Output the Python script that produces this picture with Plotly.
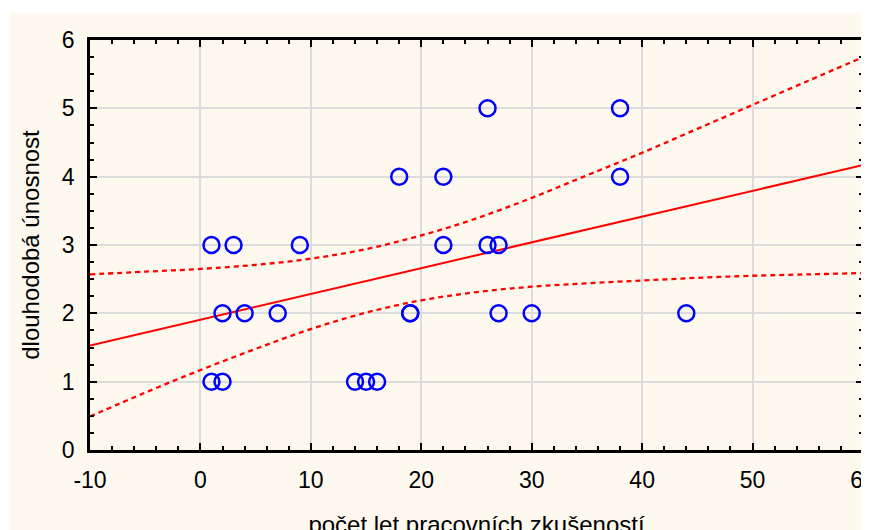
import plotly.graph_objects as go

# scatter data (years of experience, long-term load capacity)
exp_years = [1, 3, 9, 22, 26, 27,
             2, 4, 7, 19, 19, 27, 30, 44,
             1, 2, 14, 15, 16,
             18, 22, 38,
             26, 38]
capacity = [3, 3, 3, 3, 3, 3,
            2, 2, 2, 2, 2, 2, 2, 2,
            1, 1, 1, 1, 1,
            4, 4, 4,
            5, 5]

# regression line
fit_x = [-10, 60]
fit_y = [1.53, 4.17]

# confidence band
band_x = [-10, -5, 0, 5, 10, 15, 20, 25, 30, 35, 40, 45, 50, 55, 60]
band_upper = [2.57, 2.61, 2.65, 2.71, 2.80, 2.94, 3.14, 3.39, 3.69, 4.02, 4.35, 4.70, 5.05, 5.40, 5.75]
band_lower = [0.49, 0.84, 1.17, 1.48, 1.77, 2.01, 2.19, 2.31, 2.39, 2.44, 2.48, 2.52, 2.55, 2.57, 2.59]

x_ticks = [-10, 0, 10, 20, 30, 40, 50, 60]
x_tick_labels = ["-10", "0", "10", "20", "30", "40", "50", "60"]
y_ticks = [0, 1, 2, 3, 4, 5, 6]
y_tick_labels = ["0", "1", "2", "3", "4", "5", "6"]

RED = "#FF0000"
fig = go.Figure()
fig.add_trace(go.Scatter(x=band_x, y=band_upper, mode="lines", line_shape="spline",
                         line=dict(color=RED, width=2.3, dash="5px,4px"), hoverinfo="skip"))
fig.add_trace(go.Scatter(x=band_x, y=band_lower, mode="lines", line_shape="spline",
                         line=dict(color=RED, width=2.3, dash="5px,4px"), hoverinfo="skip"))
fig.add_trace(go.Scatter(x=fit_x, y=fit_y, mode="lines",
                         line=dict(color=RED, width=2), hoverinfo="skip"))
fig.add_trace(go.Scatter(x=exp_years, y=capacity, mode="markers",
                         marker=dict(symbol="circle-open", size=16, color="#0000FF",
                                     line=dict(width=2.5, color="#0000FF"))))

tick_font = dict(family="Liberation Sans, Arial, sans-serif", size=23, color="black")
title_font = dict(family="Liberation Sans, Arial, sans-serif", size=24, color="black")

axis_common = dict(showline=True, linecolor="black", linewidth=2.5, mirror="allticks",
                   ticks="inside", ticklen=7, tickwidth=2, tickcolor="black",
                   showgrid=True, gridcolor="#DCDCDC", gridwidth=2, zeroline=False,
                   tickfont=tick_font, automargin=False, ticklabeloverflow="allow")

fig.update_layout(
    width=869, height=530,
    margin=dict(l=82, r=14, t=32, b=88),
    paper_bgcolor="white", plot_bgcolor="white",
    showlegend=False,
    xaxis=dict(range=[-10, 60], tickvals=x_ticks, ticktext=x_tick_labels, ticklabelstandoff=8,
               minor=dict(dtick=2, ticks="inside", ticklen=4, tickwidth=2, tickcolor="black", showgrid=False),
               title=dict(text="počet let pracovních zkušeností", font=title_font, standoff=24),
               **axis_common),
    yaxis=dict(range=[0, 6], tickvals=y_ticks, ticktext=y_tick_labels, ticklabelstandoff=8,
               minor=dict(dtick=0.25, ticks="inside", ticklen=4, tickwidth=2, tickcolor="black", showgrid=False),
               title=dict(text="dlouhodobá únosnost", font=title_font, standoff=16),
               **axis_common),
    shapes=[dict(type="rect", xref="paper", yref="paper", x0=-0.1035, x1=1.03,
                 y0=-0.25, y1=1.066, fillcolor="#FDF9EF", line=dict(width=0), layer="below")],
)

fig.write_html("out.html")
